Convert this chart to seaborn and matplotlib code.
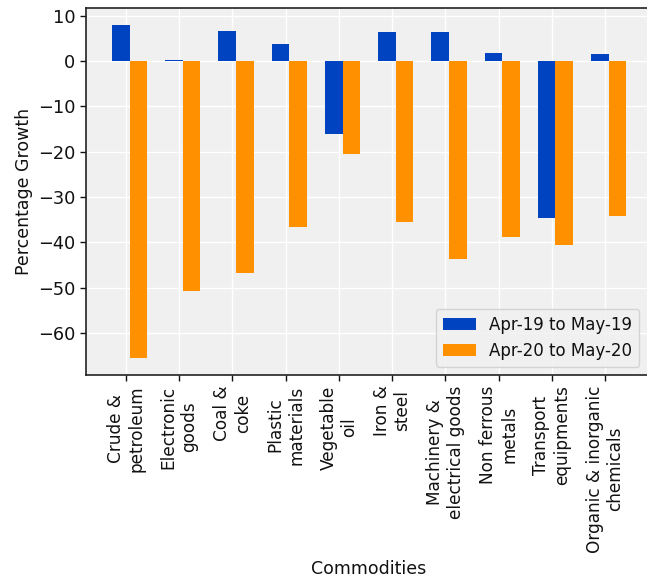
import numpy as np
import pandas as pd
import matplotlib
matplotlib.use("Agg")
import matplotlib.pyplot as plt
import seaborn as sns

categories = ["Crude &\npetroleum", "Electronic\ngoods", "Coal &\ncoke", "Plastic\nmaterials",
              "Vegetable\noil", "Iron &\nsteel", "Machinery &\nelectrical goods", "Non ferrous\nmetals",
              "Transport\nequipments", "Organic & inorganic\nchemicals"]
series_names = ["Apr-19 to May-19", "Apr-20 to May-20"]
growth_19 = [8.05, 0.3, 6.6, 3.85, -16.2, 6.3, 6.3, 1.85, -34.6, 1.6]
growth_20 = [-65.6, -50.8, -46.8, -36.7, -20.6, -35.5, -43.6, -38.9, -40.7, -34.1]
colors = ["#0043C1", "#FF9000"]

df = pd.DataFrame({
    "Commodity": categories * 2,
    "Period": [series_names[0]] * len(categories) + [series_names[1]] * len(categories),
    "Growth": growth_19 + growth_20,
})

sns.set_style("darkgrid", {"axes.facecolor": "#f0f0f0", "grid.color": "white",
                           "axes.edgecolor": "#222222", "xtick.bottom": True, "ytick.left": True,
                           "xtick.color": "#111111", "ytick.color": "#111111",
                           "text.color": "#111111", "axes.labelcolor": "#111111"})
plt.rcParams['font.family'] = ['DejaVu Sans']
plt.rcParams['font.size'] = 12

fig = plt.figure(figsize=(6.47, 5.79), dpi=100)
ax = fig.add_axes([86/647, (579-375)/579, 566/647, 367/579])

sns.barplot(data=df, x="Commodity", y="Growth", hue="Period", hue_order=series_names,
            order=categories, palette=colors, width=0.665, linewidth=0, saturation=1,
            errorbar=None, ax=ax)

ax.set_xlim(-0.8175, 9.8125)
ax.set_ylim(-69.3, 11.7)
ax.set_yticks([10, 0, -10, -20, -30, -40, -50, -60])
ax.set_xticks(np.arange(len(categories)) - 0.0675)
ax.set_xticklabels(categories, rotation=90, ha="center", va="top", multialignment="center",
                   fontsize=12.2)
ax.tick_params(axis="y", labelsize=12.8)
ax.tick_params(length=4.5, width=1, pad=3)
for s in ax.spines.values():
    s.set_linewidth(1.2)
ax.set_xlabel("Commodities", fontsize=12.5, labelpad=5)
ax.set_ylabel("Percentage Growth", fontsize=12.5)
ax.grid(True, color="white", linewidth=1)
handles, labels = ax.get_legend_handles_labels()
ax.legend(handles, labels, loc="lower right", fontsize=12, frameon=True,
          facecolor="#f0f0f0", edgecolor="#cccccc", bbox_to_anchor=(0.992, 0.0))

fig.savefig("out.png", dpi=100)
